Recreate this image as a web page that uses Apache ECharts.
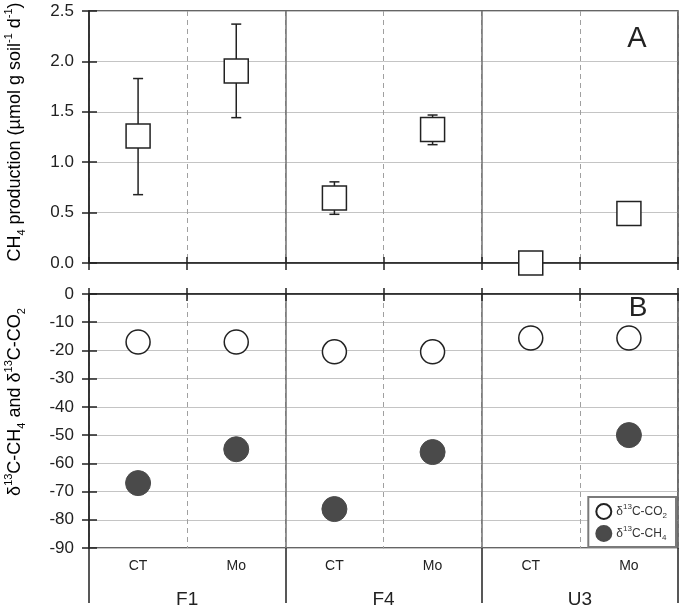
<!DOCTYPE html>
<html>
<head>
<meta charset="utf-8">
<script src="https://cdn.jsdelivr.net/npm/echarts@6/dist/echarts.min.js"></script>
<style>
html,body{margin:0;padding:0;background:#fff;}
#chart{width:680px;height:609px;}
</style>
</head>
<body>
<div id="chart"></div>
<script>
// ---- data ----
const categories = ['CT', 'Mo', 'CT', 'Mo', 'CT', 'Mo'];
const groups = ['F1', 'F4', 'U3'];
const ch4Production = [1.26, 1.905, 0.645, 1.325, 0.0, 0.49];
const ch4ProductionHigh = [1.83, 2.37, 0.805, 1.468, null, null];
const ch4ProductionLow = [0.678, 1.442, 0.483, 1.174, null, null];
const d13CO2 = [-17.0, -17.0, -20.5, -20.5, -15.6, -15.6];
const d13CH4 = [-67.0, -55.0, -76.2, -56.0, null, -50.0];
const prodTicks = { min: 0, max: 2.5, interval: 0.5 };
const isoTicks = { min: -90, max: 0, interval: 10 };

const FONT = '"Liberation Sans", Arial, sans-serif';
const INK = '#222';

const errData = [];
for (let i = 0; i < categories.length; i++) {
  if (ch4ProductionLow[i] != null && ch4ProductionHigh[i] != null) {
    errData.push([i, ch4ProductionLow[i], ch4ProductionHigh[i]]);
  }
}

const richSS = {
  base: { fontFamily: FONT, fontSize: 18, color: INK, lineHeight: 26 },
  sup: { fontFamily: FONT, fontSize: 11, color: INK, verticalAlign: 'top', lineHeight: 26, padding: [1, 0, 0, 0] },
  sub: { fontFamily: FONT, fontSize: 11, color: INK, verticalAlign: 'bottom', lineHeight: 26, padding: [0, 0, 1, 0] }
};
const richLegend = {
  b: { fontFamily: FONT, fontSize: 12, color: '#333', lineHeight: 17 },
  sup: { fontFamily: FONT, fontSize: 8, color: '#333', verticalAlign: 'top', lineHeight: 17 },
  sub: { fontFamily: FONT, fontSize: 8, color: '#333', verticalAlign: 'bottom', lineHeight: 17 }
};

const chart = echarts.init(document.getElementById('chart'), null, { renderer: 'canvas' });

function catAxis(gridIndex, data, extra) {
  return Object.assign({
    type: 'category', gridIndex: gridIndex, data: data, position: 'bottom',
    boundaryGap: true,
    axisLine: { show: false },
    axisTick: { show: false },
    axisLabel: { show: false },
    splitLine: { show: false }
  }, extra);
}
function valAxis(gridIndex, ticks, extra) {
  return Object.assign({
    type: 'value', gridIndex: gridIndex, position: 'left',
    min: ticks.min, max: ticks.max, interval: ticks.interval,
    axisLine: { show: false },
    axisTick: { show: false },
    axisLabel: { show: false },
    splitLine: { show: false }
  }, extra);
}

const option = {
  animation: false,
  backgroundColor: '#fff',
  grid: [
    { left: 89, right: 2, top: 11, height: 252, show: true, borderColor: '#333', borderWidth: 1.5 },
    { left: 89, right: 2, top: 294, height: 254, show: true, borderColor: '#333', borderWidth: 1.5 }
  ],
  xAxis: [
    // top grid
    catAxis(0, categories, {
      axisLine: { show: true, lineStyle: { color: INK, width: 1.5 } },
      axisTick: { show: true, length: 7, lineStyle: { color: INK, width: 1.5 } },
      splitLine: { show: true, lineStyle: { color: '#a0a0a0', width: 1, type: [5, 4] } }
    }),
    catAxis(0, categories, {
      axisTick: { show: true, inside: true, length: 6, lineStyle: { color: INK, width: 1.5 } }
    }),
    catAxis(0, groups, {
      splitLine: { show: true, lineStyle: { color: '#707070', width: 1.5 } }
    }),
    // bottom grid
    catAxis(1, categories, {
      axisLine: { show: true, lineStyle: { color: INK, width: 1.5 } },
      axisTick: { show: true, length: 7, lineStyle: { color: INK, width: 1.5 } },
      axisLabel: { show: true, margin: 11, fontFamily: FONT, fontSize: 14, color: INK },
      splitLine: { show: true, lineStyle: { color: '#a0a0a0', width: 1, type: [5, 4] } }
    }),
    catAxis(1, categories, {
      axisTick: { show: true, inside: true, length: 6, lineStyle: { color: INK, width: 1.5 } }
    }),
    catAxis(1, groups, {
      axisTick: { show: true, length: 55, lineStyle: { color: INK, width: 1.5 } },
      axisLabel: { show: true, margin: 42, fontFamily: FONT, fontSize: 19, color: INK },
      splitLine: { show: true, lineStyle: { color: '#707070', width: 1.5 } }
    })
  ],
  yAxis: [
    valAxis(0, prodTicks, {
      axisLine: { show: true, lineStyle: { color: INK, width: 1.5 } },
      axisTick: { show: true, length: 7, lineStyle: { color: INK, width: 1.5 } },
      axisLabel: { show: true, margin: 15, fontFamily: FONT, fontSize: 17, color: INK,
        formatter: v => v.toFixed(1) },
      splitLine: { show: true, lineStyle: { color: '#c4c4c4', width: 1 } }
    }),
    valAxis(0, prodTicks, {
      axisTick: { show: true, inside: true, length: 8, lineStyle: { color: INK, width: 1.5 } }
    }),
    valAxis(1, isoTicks, {
      axisLine: { show: true, lineStyle: { color: INK, width: 1.5 } },
      axisTick: { show: true, length: 7, lineStyle: { color: INK, width: 1.5 } },
      axisLabel: { show: true, margin: 15, fontFamily: FONT, fontSize: 17, color: INK },
      splitLine: { show: true, lineStyle: { color: '#c4c4c4', width: 1 } }
    }),
    valAxis(1, isoTicks, {
      axisTick: { show: true, inside: true, length: 8, lineStyle: { color: INK, width: 1.5 } }
    })
  ],
  legend: {
    right: 4, bottom: 62,
    orient: 'vertical',
    itemGap: 5,
    itemWidth: 15, itemHeight: 15,
    padding: [6, 9, 5, 7],
    backgroundColor: '#fff',
    borderColor: '#7a7a7a', borderWidth: 2,
    data: ['co2', 'ch4'],
    formatter: function (name) {
      return name === 'co2'
        ? '{b|δ}{sup|13}{b|C-CO}{sub|2}'
        : '{b|δ}{sup|13}{b|C-CH}{sub|4}';
    },
    textStyle: { rich: richLegend }
  },
  series: [
    {
      type: 'custom', name: 'err', xAxisIndex: 0, yAxisIndex: 0,
      data: errData, clip: false, z: 3,
      renderItem: function (params, api) {
        const x = api.coord([api.value(0), api.value(1)])[0];
        const yLo = api.coord([api.value(0), api.value(1)])[1];
        const yHi = api.coord([api.value(0), api.value(2)])[1];
        const cw = 5;
        const st = { stroke: INK, lineWidth: 1.5 };
        return {
          type: 'group',
          children: [
            { type: 'line', shape: { x1: x, y1: yLo, x2: x, y2: yHi }, style: st },
            { type: 'line', shape: { x1: x - cw, y1: yLo, x2: x + cw, y2: yLo }, style: st },
            { type: 'line', shape: { x1: x - cw, y1: yHi, x2: x + cw, y2: yHi }, style: st }
          ]
        };
      }
    },
    {
      type: 'scatter', name: 'prod', xAxisIndex: 0, yAxisIndex: 0,
      data: ch4Production, symbol: 'rect', symbolSize: 24, clip: false, z: 5,
      itemStyle: { color: '#fff', borderColor: INK, borderWidth: 1.5, opacity: 1 }
    },
    {
      type: 'scatter', name: 'co2', xAxisIndex: 3, yAxisIndex: 2,
      data: d13CO2, symbol: 'circle', symbolSize: 24, clip: false, z: 5,
      itemStyle: { color: '#fff', borderColor: INK, borderWidth: 1.5, opacity: 1 }
    },
    {
      type: 'scatter', name: 'ch4', xAxisIndex: 3, yAxisIndex: 2,
      data: d13CH4, symbol: 'circle', symbolSize: 25, clip: false, z: 5,
      itemStyle: { color: '#4a4a4a', borderColor: '#4a4a4a', borderWidth: 1, opacity: 1 }
    }
  ],
  graphic: [
    { type: 'text', x: 637, y: 39, z: 10,
      style: { text: 'A', fontFamily: FONT, fontSize: 29, fill: INK, align: 'center', verticalAlign: 'middle' } },
    { type: 'text', x: 638, y: 308, z: 10,
      style: { text: 'B', fontFamily: FONT, fontSize: 28, fill: INK, align: 'center', verticalAlign: 'middle' } },
    { type: 'text', x: 15, y: 132, rotation: Math.PI / 2, z: 10,
      style: { text: '{base|CH}{sub|4}{base| production (µmol g soil}{sup|-1}{base| d}{sup|-1}{base|)}',
        rich: richSS, align: 'center', verticalAlign: 'middle' } },
    { type: 'text', x: 15, y: 402, rotation: Math.PI / 2, z: 10,
      style: { text: '{base|δ}{sup|13}{base|C-CH}{sub|4}{base| and δ}{sup|13}{base|C-CO}{sub|2}',
        rich: richSS, align: 'center', verticalAlign: 'middle' } }
  ]
};
chart.setOption(option);
</script>
</body>
</html>
